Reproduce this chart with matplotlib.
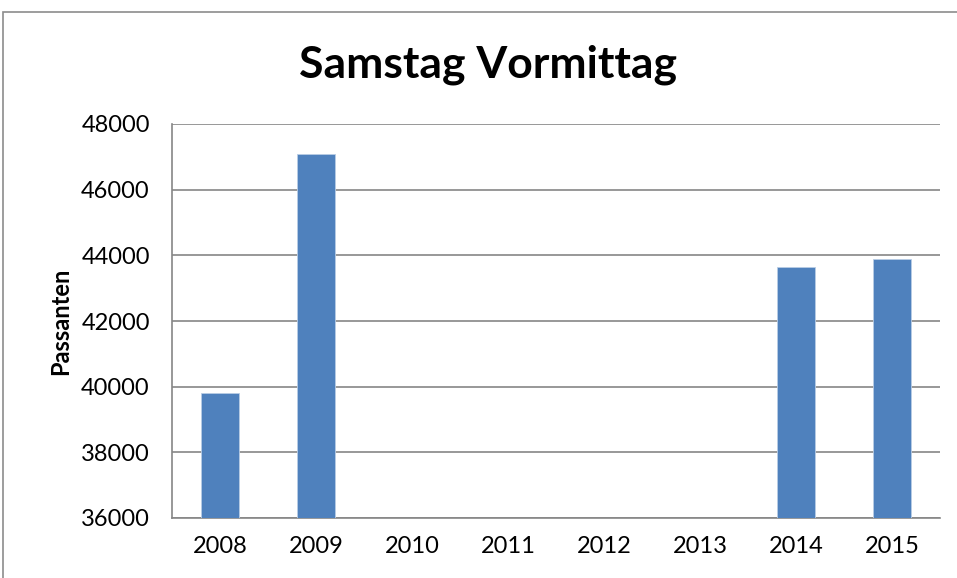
import matplotlib
matplotlib.use('Agg')
import matplotlib.pyplot as plt
from matplotlib.patches import Rectangle

plt.rcParams['font.family'] = ['Lato', 'DejaVu Sans']

years = ['2008', '2009', '2010', '2011', '2012', '2013', '2014', '2015']
passanten = [39800, 47100, None, None, None, None, 43650, 43880]
yticks = [36000, 38000, 40000, 42000, 44000, 46000, 48000]

fig = plt.figure(figsize=(9.57, 5.78), dpi=100)
ax = fig.add_axes([172/957, 1 - 518/578, (940-172)/957, (518-124)/578])

# outer chart frame
fig.patches.append(Rectangle((3/957, -0.05), 960/957, 1 - 12/578 + 0.05,
                             transform=fig.transFigure, fill=False,
                             edgecolor='#8c8c8c', linewidth=1.2))

xs = list(range(len(years)))
for x, v in zip(xs, passanten):
    if v is not None:
        ax.bar(x, v - 36000, bottom=36000, width=0.4, color='#4f81bd',
               edgecolor='#b9cde5', linewidth=0.6, zorder=3)

ax.set_xlim(-0.5, len(years) - 0.5)
ax.set_ylim(36000, 48000)
ax.set_yticks(yticks)
ax.set_yticklabels([str(t) for t in yticks], fontsize=17)
ax.set_xticks(xs)
ax.set_xticklabels(years, fontsize=17)
ax.tick_params(axis='y', length=0, pad=16)
ax.tick_params(axis='x', length=0, pad=13)
ax.grid(axis='y', color='#868686', linewidth=1.2, zorder=0)
for s in ['top', 'right']:
    ax.spines[s].set_visible(False)
ax.spines['left'].set_color('#868686')
ax.spines['bottom'].set_color('#868686')
ax.spines['left'].set_linewidth(1.2)
ax.spines['bottom'].set_linewidth(1.2)

ax.set_ylabel('Passanten', fontsize=17, fontweight='bold')
ax.yaxis.set_label_coords(-0.13, 0.5)
fig.text(488/957, 1 - 65/578, 'Samstag Vormittag', ha='center', va='center',
         fontsize=32, fontweight='bold')

fig.savefig('out.png', dpi=100)
